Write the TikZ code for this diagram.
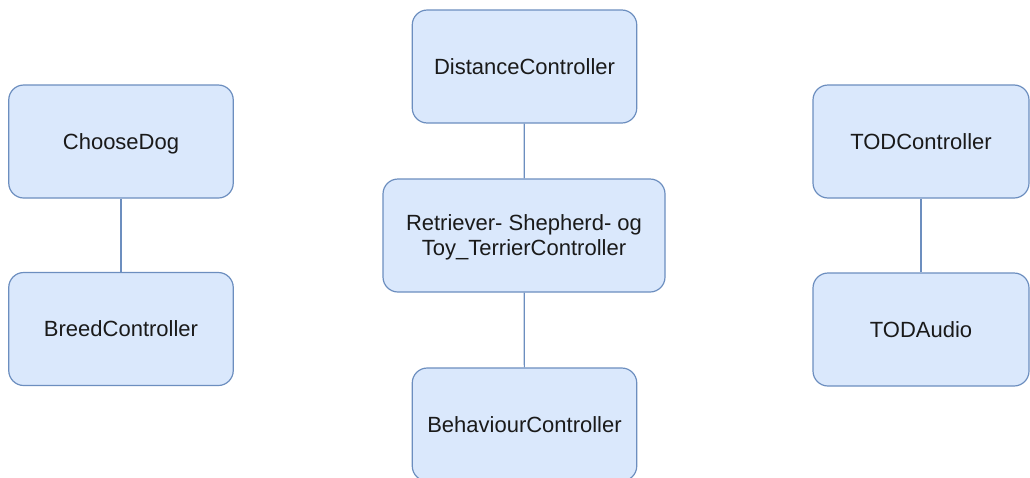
\documentclass[tikz,border=0pt]{standalone}
\usepackage{fontspec}
\setmainfont{Liberation Sans}
\definecolor{boxfill}{HTML}{DAE8FC}
\definecolor{boxline}{HTML}{6C8EBF}
\definecolor{boxtext}{HTML}{1A1A1A}
\begin{document}
\begin{tikzpicture}[x=1pt,y=-1pt,
  classbox/.style={rectangle, rounded corners=15pt, fill=boxfill, draw=boxline,
    line width=1.2pt, minimum width=224.5pt, minimum height=113pt, inner sep=0pt,
    align=center, text=boxtext, text depth=0pt, font=\fontsize{22}{25}\selectfont},
  link/.style={draw=boxline, line width=1.2pt}]
\path[use as bounding box, clip] (0,0) rectangle (1030,477);

% left column
\node[classbox] (choose) at (121,141.5) {ChooseDog};
\node[classbox] (breed) at (121,329) {BreedController};

% middle column
\node[classbox] (dist) at (524.5,66.5) {DistanceController};
\node[classbox, minimum width=282pt] (breeds) at (524,235.5) {Retriever- Shepherd- og\\Toy\_TerrierController};
\node[classbox] (behav) at (524.5,424.5) {BehaviourController};

% right column
\node[classbox, minimum width=216pt] (tod) at (921,141.5) {TODController};
\node[classbox, minimum width=216pt] (audio) at (921,329.5) {TODAudio};

% links
\draw[link] (choose) -- (breed);
\draw[link] (dist) -- (breeds);
\draw[link] (breeds) -- (behav);
\draw[link] (tod) -- (audio);
\end{tikzpicture}
\end{document}
